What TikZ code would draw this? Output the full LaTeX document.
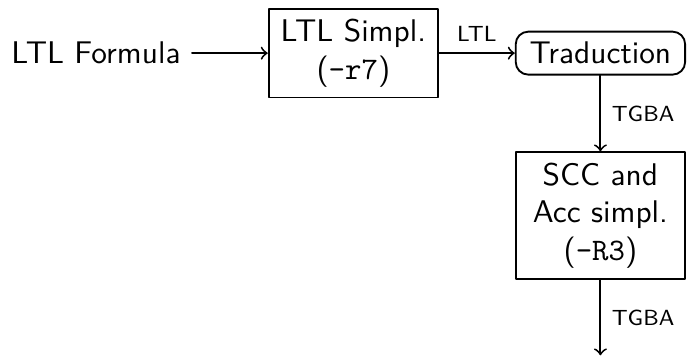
\documentclass[tikz,border=0pt]{standalone}
\usetikzlibrary{positioning}
\renewcommand{\familydefault}{\sfdefault}

\tikzset{
  stage/.style={draw, align=center, minimum width=1.9cm},
  flow/.style={font=\scriptsize}
}

\begin{document}
\begin{tikzpicture}[node distance=0.85cm, semithick, line cap=round, line join=round]
  \node[stage] (simpl) {LTL Simpl.\\(\texttt{-r7})};
  \node[left=of simpl] (formula) {LTL Formula};
  \node[stage, rounded corners, right=of simpl] (trad) {Traduction};
  \node[stage, below=of trad] (scc) {SCC and\\Acc simpl.\\(\texttt{-R3})};
  \coordinate[below=of scc] (out);
  \draw[->] (formula) -- (simpl);
  \draw[->] (simpl) -- node[flow, above]{LTL} (trad);
  \draw[->] (trad) -- node[flow, right]{TGBA} (scc);
  \draw[->] (scc) -- node[flow, right]{TGBA} (out);
  % frame: from the formula to the right side of the last box
  \pgfresetboundingbox
  \path[use as bounding box] ([yshift=2.5pt]formula.west |- simpl.north)
    rectangle ([xshift=0.3pt]scc.east |- out);
\end{tikzpicture}
\end{document}
